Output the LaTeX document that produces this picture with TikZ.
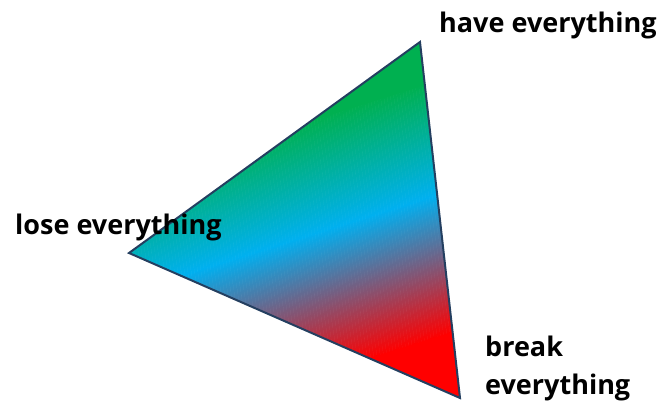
\documentclass[tikz,border=0pt]{standalone}
\usepackage{fontspec}
\setmainfont{Open Sans}
\definecolor{tgreen}{HTML}{00B050}
\definecolor{tcyan}{HTML}{00B0F0}
\definecolor{tred}{HTML}{FF0000}
\definecolor{tedge}{HTML}{243F60}
\begin{document}
\begin{tikzpicture}[x=1pt,y=1pt,
  lbl/.style={font=\fontsize{27}{38}\selectfont\bfseries, inner sep=0pt, anchor=base west, align=left}]
\useasboundingbox (0,0) rectangle (665,406);
\coordinate (T) at (420,364);
\coordinate (L) at (129,153);
\coordinate (B) at (460,8);
\begin{scope}
  \clip (T) -- (L) -- (B) -- cycle;
  \begin{scope}[rotate=17.5]
    \fill[tgreen] (-300,178) rectangle (900,600);
    \foreach \i in {0,...,109} {
      \pgfmathsetmacro\p{\i/110*100}
      \fill[tcyan!\p!tgreen] (-300,180-\i-1.4) rectangle (900,180-\i);
    }
    \foreach \i in {0,...,135} {
      \pgfmathsetmacro\p{\i/136*100}
      \fill[tred!\p!tcyan] (-300,70-\i-1.4) rectangle (900,70-\i);
    }
    \fill[tred] (-300,-500) rectangle (900,-65.5);
  \end{scope}
\end{scope}
\draw[tedge, line width=2pt, line join=miter] (T) -- (L) -- (B) -- cycle;
\node[lbl] (have) at (439,373) {have everything};
\node[lbl] (lose) at (15,171) {lose everything};
\node[lbl] (brk) at (485,49) {break};
\node[lbl] (brk2) at (485,11) {everything};
\end{tikzpicture}
\end{document}
